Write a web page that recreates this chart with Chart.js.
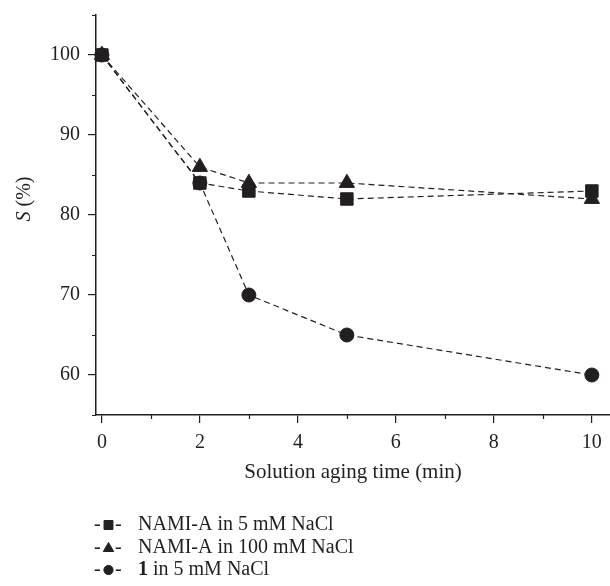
<!DOCTYPE html>
<html>
<head>
<meta charset="utf-8">
<title>S (%) vs solution aging time</title>
<script src="https://cdn.jsdelivr.net/npm/chart.js@4.4.1/dist/chart.umd.min.js"></script>
<style>
  html, body { margin: 0; padding: 0; background: #fff; }
  #wrap { position: relative; width: 610px; height: 586px; }
</style>
</head>
<body>
<div id="wrap"><canvas id="chart" width="610" height="586"></canvas></div>
<script>
/* ---- data ---- */
const agingTimes  = [0, 2, 3, 5, 10];
const namiA5mM    = [100, 84, 83, 82, 83];
const namiA100mM  = [100, 86, 84, 84, 82];
const cmpd1In5mM  = [100, 84, 70, 65, 60];
const seriesLabels = ['NAMI-A in 5 mM NaCl', 'NAMI-A in 100 mM NaCl', '**1** in 5 mM NaCl'];

const xMajorTicks = [0, 2, 4, 6, 8, 10];
const xMinorTicks = [1, 3, 5, 7, 9];
const yMajorTicks = [60, 70, 80, 90, 100];
const yMinorTicks = [55, 65, 75, 85, 95, 105];
const xTitle = 'Solution aging time (min)';
const yTitle = ['S', ' (%)'];   // italic symbol, then unit

/* ---- look ---- */
const INK = '#231f20';
const FONT = "'Liberation Serif', 'Times New Roman', serif";
Chart.defaults.font.family = FONT;
Chart.defaults.color = INK;

const series = (label, values, style, r) => ({
  label,
  data: agingTimes.map((x, i) => ({ x, y: values[i] })),
  borderColor: INK,
  borderWidth: 1.2,
  borderDash: [6, 4],
  pointStyle: style,
  pointRadius: r,
  pointHoverRadius: r,
  pointBackgroundColor: INK,
  pointBorderColor: INK,
  pointBorderWidth: 1,
  fill: false,
  tension: 0,
  clip: false
});

// short outward ticks between the labelled ones
const minorTicks = {
  id: 'minorTicks',
  afterDraw(chart) {
    const { ctx, scales: { x, y } } = chart;
    ctx.save();
    ctx.strokeStyle = INK;
    ctx.lineWidth = 1.2;
    ctx.beginPath();
    xMinorTicks.forEach(v => {
      const px = Math.round(x.getPixelForValue(v)) + 0.5;
      ctx.moveTo(px, x.top);
      ctx.lineTo(px, x.top + 4);
    });
    yMinorTicks.forEach(v => {
      const py = Math.round(y.getPixelForValue(v)) + 0.5;
      ctx.moveTo(y.right, py);
      ctx.lineTo(y.right - 4, py);
    });
    ctx.stroke();
    ctx.restore();
  }
};

// y title with an italic symbol
const yAxisTitle = {
  id: 'yAxisTitle',
  afterDraw(chart) {
    const { ctx } = chart;
    ctx.save();
    ctx.translate(25, 199);
    ctx.rotate(-Math.PI / 2);
    ctx.fillStyle = INK;
    ctx.textBaseline = 'middle';
    const fI = `italic 20px ${FONT}`, fN = `20px ${FONT}`;
    ctx.font = fI; const w1 = ctx.measureText(yTitle[0]).width;
    ctx.font = fN; const w2 = ctx.measureText(yTitle[1]).width;
    let x0 = -(w1 + w2) / 2;
    ctx.font = fI; ctx.fillText(yTitle[0], x0, 0);
    ctx.font = fN; ctx.fillText(yTitle[1], x0 + w1, 0);
    ctx.restore();
  }
};

// "-■- label" style key under the plot
const keyBelow = {
  id: 'keyBelow',
  afterDraw(chart) {
    const { ctx } = chart;
    const sizes = { rect: 6.3, triangle: 6, circle: 4.6 };
    ctx.save();
    ctx.fillStyle = INK;
    ctx.strokeStyle = INK;
    ctx.textBaseline = 'middle';
    chart.data.datasets.forEach((ds, i) => {
      const cy = 525 + i * 22.5;
      ctx.font = `20px ${FONT}`;
      ctx.fillText('-', 94, cy);
      ctx.fillText('-', 115, cy);
      Chart.helpers.drawPoint(ctx, {
        pointStyle: ds.pointStyle, radius: sizes[ds.pointStyle], rotation: 0, borderWidth: 1
      }, 108.5, cy + (ds.pointStyle === 'triangle' ? 1 : 0));
      // label, with **bold** parts
      let x = 138;
      ds.label.split('**').forEach((part, k) => {
        ctx.font = (k % 2 ? 'bold ' : '') + `20px ${FONT}`;
        ctx.fillText(part, x, cy);
        x += ctx.measureText(part).width;
      });
    });
    ctx.restore();
  }
};

new Chart(document.getElementById('chart'), {
  type: 'line',
  data: {
    datasets: [
      series(seriesLabels[0], namiA5mM, 'rect', 8.8),
      series(seriesLabels[1], namiA100mM, 'triangle', 8.8),
      series(seriesLabels[2], cmpd1In5mM, 'circle', 7)
    ]
  },
  options: {
    responsive: false,
    animation: false,
    layout: { autoPadding: false, padding: { top: 15, right: 0, bottom: 0, left: 0 } },
    plugins: { legend: { display: false }, tooltip: { enabled: false } },
    scales: {
      x: {
        type: 'linear',
        min: -0.12,
        max: 10.37,
        afterBuildTicks: s => { s.ticks = xMajorTicks.map(v => ({ value: v })); },
        afterFit: s => { s.height = 171; s.paddingLeft = 0; s.paddingRight = 0; },
        grid: { drawOnChartArea: false, drawTicks: true, tickLength: 8, color: INK, lineWidth: 1.2 },
        border: { display: true, color: INK, width: 1.5 },
        ticks: { font: { size: 20 }, color: INK, padding: 8, maxRotation: 0, autoSkip: false },
        title: { display: true, text: xTitle, color: INK, font: { size: 21 }, padding: { top: 0, bottom: 101 } }
      },
      y: {
        type: 'linear',
        min: 55,
        max: 105,
        afterBuildTicks: s => { s.ticks = yMajorTicks.map(v => ({ value: v })); },
        afterFit: s => { s.width = 96; s.paddingTop = 0; s.paddingBottom = 0; },
        grid: { drawOnChartArea: false, drawTicks: true, tickLength: 8, color: INK, lineWidth: 1.2 },
        border: { display: true, color: INK, width: 1.5 },
        ticks: { font: { size: 20 }, color: INK, padding: 8 }
      }
    }
  },
  plugins: [minorTicks, yAxisTitle, keyBelow]
});
</script>
</body>
</html>
